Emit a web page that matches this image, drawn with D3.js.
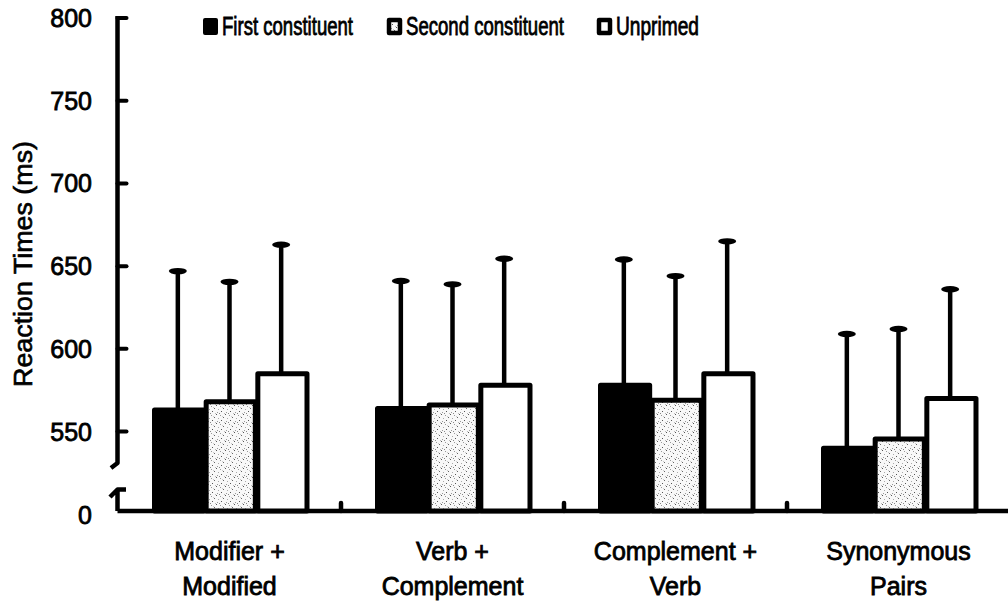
<!DOCTYPE html>
<html>
<head>
<meta charset="utf-8">
<script src="https://cdn.jsdelivr.net/npm/d3@7"></script>
<style>
  html, body { margin: 0; padding: 0; background: #fff; }
  svg { display: block; }
  text { font-family: "Liberation Sans", Arial, sans-serif; fill: #000; }
</style>
</head>
<body>
<svg id="chart" width="1008" height="602"></svg>
<script>
// ---- data ----
const categories = [["Modifier +", "Modified"], ["Verb +", "Complement"], ["Complement +", "Verb"], ["Synonymous", "Pairs"]];
const seriesNames = ["First constituent", "Second constituent", "Unprimed"];
const firstConstituent = [563, 564, 578, 540];
const secondConstituent = [568, 566, 569, 545.5];
const unprimed = [585, 578, 585, 570];
const firstErrTop = [647, 641, 654, 609];
const secondErrTop = [640.5, 639, 644, 612];
const unprimedErrTop = [663, 654.5, 665, 636];
const yTicks = [0, 550, 600, 650, 700, 750, 800];
const yTitle = "Reaction Times (ms)";

const values = [firstConstituent, secondConstituent, unprimed];
const errTops = [firstErrTop, secondErrTop, unprimedErrTop];

const svg = d3.select("#chart");
const defs = svg.append("defs");

// stipple pattern (deterministic dot layout)
const pat = defs.append("pattern").attr("id", "stip").attr("patternUnits", "userSpaceOnUse")
  .attr("width", 9).attr("height", 9);
pat.append("rect").attr("width", 9).attr("height", 9).attr("fill", "#f8f8f8");
const dots = [[0,0,"#555"],[4,1,"#999"],[7,3,"#666"],[2,4,"#aaa"],[5,6,"#555"],[1,7,"#999"],[8,8,"#bbb"],[6,2,"#ccc"],[3,8,"#888"]];
dots.forEach(d => pat.append("rect").attr("x", d[0]).attr("y", d[1]).attr("width", 1).attr("height", 1).attr("fill", d[2]));

const fills = ["#000", "url(#stip)", "#fff"];

const baseY = 511;
const y = d3.scaleLinear().domain([0, 502, 800]).range([baseY, baseY, 18]);
const axisX = 117.5;

const x0 = d3.scaleBand().domain(d3.range(categories.length)).range([118, 1010])
  .paddingInner(0.305).paddingOuter(0.1525);
const x1 = d3.scaleBand().domain(d3.range(seriesNames.length)).range([0, x0.bandwidth()]).padding(0);

const thick = 5;

// baseline
svg.append("line").attr("x1", axisX).attr("x2", 1008).attr("y1", baseY).attr("y2", baseY)
  .attr("stroke", "#000").attr("stroke-width", 4.5);

// separators ticks on baseline
const step = x0.step();
for (let i = 1; i < categories.length; i++) {
  const bx = x0(i) - (step - x0.bandwidth()) / 2;
  svg.append("line").attr("x1", bx).attr("x2", bx).attr("y1", baseY).attr("y2", baseY - 8)
    .attr("stroke", "#000").attr("stroke-width", 4.5).attr("stroke-linecap", "round");
}

// error bars (drawn first, bars cover their lower end)
values.forEach((vals, s) => {
  vals.forEach((v, i) => {
    const cx = x0(i) + x1(s) + x1.bandwidth() / 2;
    svg.append("line").attr("x1", cx).attr("x2", cx).attr("y1", y(v)).attr("y2", y(errTops[s][i]))
      .attr("stroke", "#000").attr("stroke-width", 4.5);
    svg.append("ellipse").attr("cx", cx).attr("cy", y(errTops[s][i])).attr("rx", 9).attr("ry", 3.2)
      .attr("fill", "#000");
  });
});

// bars
values.forEach((vals, s) => {
  vals.forEach((v, i) => {
    svg.append("rect")
      .attr("x", x0(i) + x1(s) + thick / 2)
      .attr("y", y(v))
      .attr("width", x1.bandwidth() - thick / 2)
      .attr("height", baseY - y(v))
      .attr("fill", fills[s])
      .attr("stroke", "#000").attr("stroke-width", thick).attr("stroke-linejoin", "round");
  });
});

// y axis (upper segment with break)
svg.append("path")
  .attr("d", `M${axisX},${y(800) - 2} L${axisX},463 L111,468`)
  .attr("fill", "none").attr("stroke", "#000").attr("stroke-width", 4.5).attr("stroke-linejoin", "round");
svg.append("path")
  .attr("d", `M110,497 L${axisX},489.5 L126,489.5 M${axisX},489.5 L${axisX},${baseY}`)
  .attr("fill", "none").attr("stroke", "#000").attr("stroke-width", 4.5).attr("stroke-linejoin", "round");

// y ticks + labels
yTicks.forEach(t => {
  if (t > 0) {
    svg.append("line").attr("x1", axisX).attr("x2", axisX + 9).attr("y1", y(t)).attr("y2", y(t))
      .attr("stroke", "#000").attr("stroke-width", 4).attr("stroke-linecap", "round");
  }
  svg.append("text").attr("x", 92).attr("y", t > 0 ? y(t) : y(t) + 4)
    .attr("text-anchor", "end").attr("dominant-baseline", "central")
    .attr("font-size", 25).attr("stroke", "#000").attr("stroke-width", 0.8)
    .text(t);
});

// y title
svg.append("text").attr("transform", "translate(32,264) rotate(-90)")
  .attr("text-anchor", "middle").attr("font-size", 25)
  .attr("textLength", 246).attr("lengthAdjust", "spacingAndGlyphs")
  .attr("stroke", "#000").attr("stroke-width", 0.6)
  .text(yTitle);

// x category labels
categories.forEach((lines, i) => {
  const cx = x0(i) + x0.bandwidth() / 2;
  lines.forEach((ln, j) => {
    svg.append("text").attr("x", cx).attr("y", 560 + j * 35)
      .attr("text-anchor", "middle").attr("font-size", 25)
      .attr("stroke", "#000").attr("stroke-width", 0.8)
      .text(ln);
  });
});

// legend
const legX = [203, 387, 597];
const legW = [131, 158, 83];
seriesNames.forEach((nm, s) => {
  svg.append("rect").attr("x", legX[s] + 2).attr("y", 20).attr("width", 11).attr("height", 13)
    .attr("fill", fills[s]).attr("stroke", "#000").attr("stroke-width", s === 0 ? 4 : 4.5)
    .attr("stroke-linejoin", "round");
  svg.append("text").attr("x", legX[s] + 19).attr("y", 35)
    .attr("font-size", 25).attr("textLength", legW[s]).attr("lengthAdjust", "spacingAndGlyphs")
    .attr("stroke", "#000").attr("stroke-width", 0.8)
    .text(nm);
});
</script>
</body>
</html>
